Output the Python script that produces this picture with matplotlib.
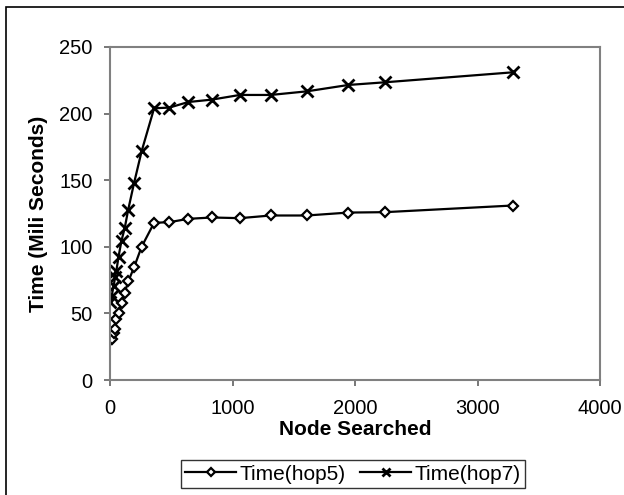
import matplotlib
matplotlib.use("Agg")
import matplotlib.pyplot as plt
from matplotlib.patches import Rectangle

plt.rcParams['font.family'] = ['Liberation Sans', 'DejaVu Sans']

# nodes searched (shared by both series)
nodes = [3, 13, 29, 42, 52, 70, 94, 120, 149, 196, 258,
         360, 484, 640, 832, 1060, 1312, 1606, 1946, 2244, 3289]
hop5 = [30, 31, 35, 38, 46, 50.5, 58, 65.5, 74, 84.5, 100,
        118, 118.5, 121, 122, 121.5, 123.5, 123.5, 125.7, 126, 131]
hop7 = [58.5, 62.7, 70.5, 77, 82, 92.7, 104.7, 114, 128, 147.7, 171.7,
        204, 204.5, 208.7, 210.5, 214, 214, 216.7, 221.5, 223.5, 231]

fig = plt.figure(figsize=(6.24, 4.95), dpi=100)
ax = fig.add_axes([110 / 624, 115 / 495, 490 / 624, 333 / 495])

ax.plot(nodes, hop5, color='black', lw=1.6, marker='D', ms=5.5,
        mfc='white', mec='black', mew=1.6, label='Time(hop5)')
ax.plot(nodes, hop7, color='black', lw=1.6, marker='x', ms=8,
        mew=2, label='Time(hop7)')

ax.set_xlim(0, 4000)
ax.set_ylim(0, 250)
ax.set_xticks([0, 1000, 2000, 3000, 4000])
ax.set_yticks([0, 50, 100, 150, 200, 250])
for s in ax.spines.values():
    s.set_color('#808080')
    s.set_linewidth(1.5)
ax.tick_params(direction='out', length=4, width=1.2, color='#606060',
               labelsize=14.5)
ax.tick_params(axis='x', pad=10)
ax.tick_params(axis='y', pad=8.5)

ax.set_xlabel('Node Searched', fontsize=15, fontweight='bold', labelpad=1)
ax.set_ylabel('Time (Mili Seconds)', fontsize=15, fontweight='bold', labelpad=8)

leg = fig.legend(loc='center', bbox_to_anchor=(353 / 624, 21 / 495), ncol=2,
                 fontsize=15, frameon=True, fancybox=False, handlelength=2.45,
                 handletextpad=0.15, columnspacing=0.7, borderpad=0.2,
                 markerscale=0.7)
leg.get_frame().set_edgecolor('black')
leg.get_frame().set_linewidth(1.0)

# outer chart border (right and bottom edges fall outside the image)
fig.patches.append(Rectangle((6 / 624, -0.02), 1.0, 1 - 7.5 / 495 + 0.02,
                             transform=fig.transFigure, fill=False,
                             edgecolor='black', lw=1.2))

fig.savefig('out.png', dpi=100)
